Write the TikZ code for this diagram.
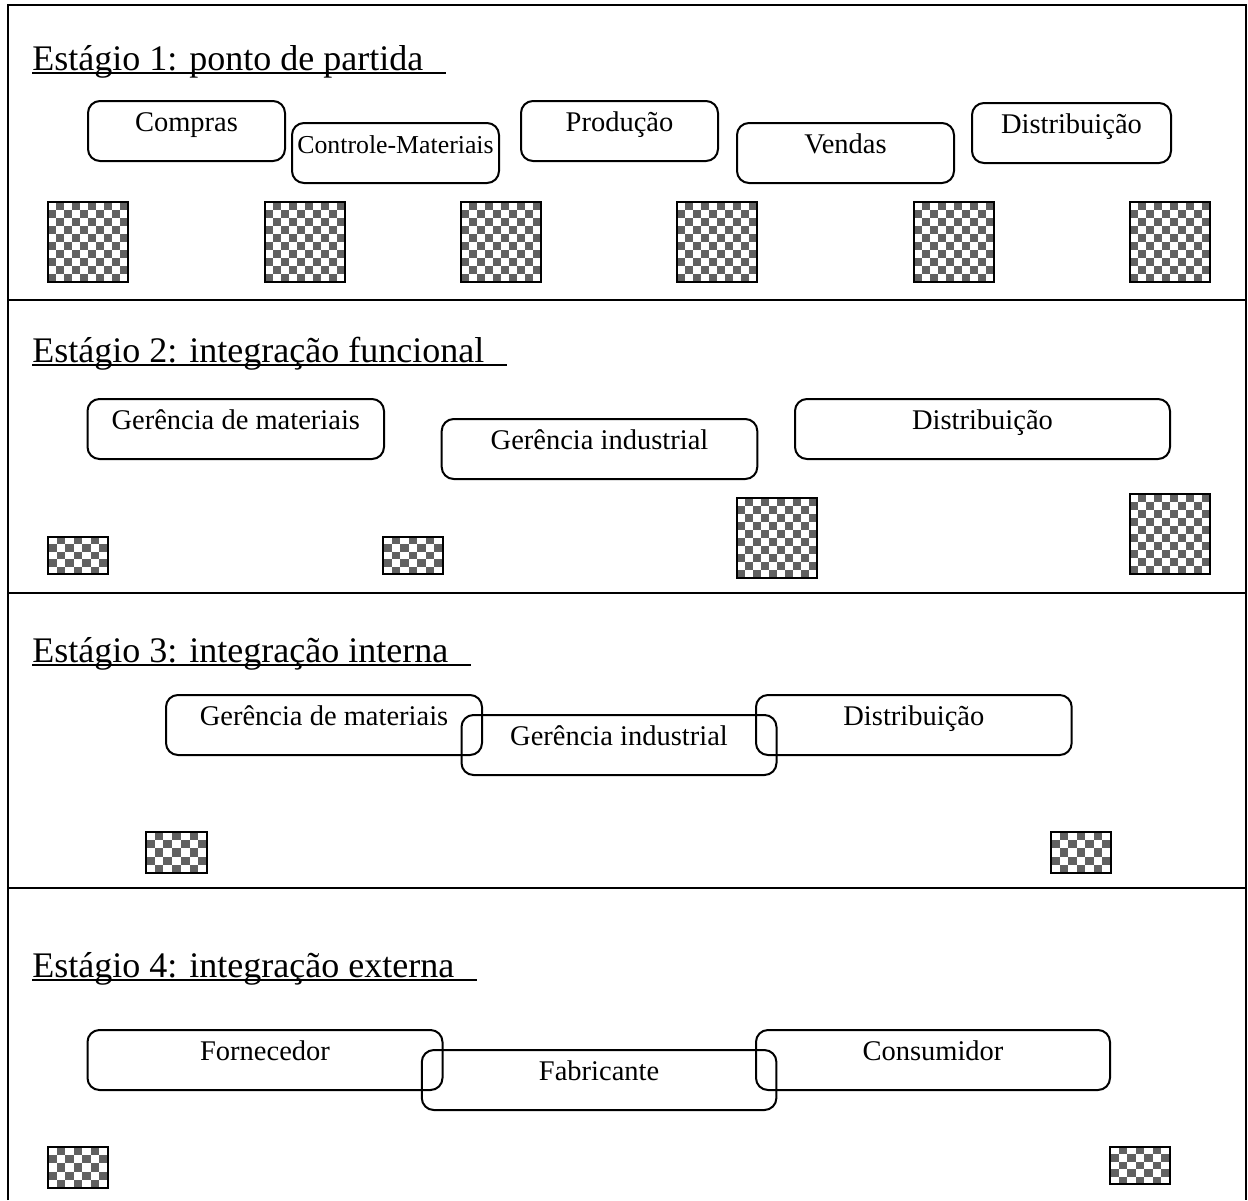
\documentclass[tikz,border=0pt]{standalone}
\usepackage{fontspec}
\setmainfont{Liberation Serif}
\newcommand{\corpo}{\fontsize{14.25pt}{17pt}\selectfont}
\newcommand{\corpomenor}{\fontsize{12.9pt}{15pt}\selectfont}
\newcommand{\titulo}{\fontsize{18pt}{22pt}\selectfont}
\begin{document}
\begin{tikzpicture}[x=0.5pt, y=-0.5pt,
    caixa/.style={draw, line width=1pt, rounded corners=6pt, inner sep=0pt,
      minimum height=30pt, text height=0.35em, text depth=0.35em, font=\corpo},
    estagio/.style={anchor=base west, inner sep=0pt, font=\titulo},
    sublinhado/.style={line width=1pt},
    moldura/.style={line width=1pt},
    xadrez/.style n args={4}{draw, line width=1pt, inner sep=0pt,
      minimum width=#3*0.5pt, minimum height=#4*0.5pt,
      path picture={
        \foreach \i in {1,...,#1}
        {\foreach \j in {1,...,#2}
          {\pgfmathtruncatemacro\paridade{mod(\i+\j,2)}
           \ifnum\paridade=1
             \fill[black!62] ([xshift={(\i-1)*#3/#1*0.5pt}, yshift={-(\j-1)*#4/#2*0.5pt}]path picture bounding box.north west)
               rectangle ++(#3/#1, #4/#2);
           \fi}}
      }}]
    \useasboundingbox (0,0) rectangle (1248,1200);

    % frame and separators
    \draw[moldura] (8,1200) -- (8,5) -- (1246,5) -- (1246,1200);
    \foreach \y in {300,592.5,888} \draw[moldura] (8,\y) -- (1246,\y);

    % stage titles
    \node[estagio] (e1) at (32,70) {Estágio 1: ponto de partida};
    \node[estagio] (e2) at (32,362) {Estágio 2: integração funcional};
    \node[estagio] (e3) at (32,662) {Estágio 3: integração interna};
    \node[estagio] (e4) at (32,977) {Estágio 4: integração externa};
    \foreach \e in {e1,e2,e3,e4}
      \draw[sublinhado] ([yshift=-1.5pt]\e.base west) -- ([xshift=11pt, yshift=-1.5pt]\e.base east);

    % stage 1
    \node[caixa, minimum width=98.5pt] (compras) at (186.5,131) {Compras};
    \node[caixa, minimum width=103.5pt, font=\corpomenor] (controle) at (395.5,153) {Controle-Materiais};
    \node[caixa, minimum width=98.5pt] (producao) at (619.5,131) {Produção};
    \node[caixa, minimum width=108.5pt] (vendas) at (845.5,153) {Vendas};
    \node[caixa, minimum width=99.5pt] (distrib1) at (1071.5,133) {Distribuição};
    \node[xadrez={10}{10}{80}{80}] (q11) at (88,242) {};
    \node[xadrez={10}{10}{80}{80}] (q12) at (304.5,242) {};
    \node[xadrez={10}{10}{80}{80}] (q13) at (501,242) {};
    \node[xadrez={10}{10}{80}{80}] (q14) at (717,242) {};
    \node[xadrez={10}{10}{80}{80}] (q15) at (954,242) {};
    \node[xadrez={10}{10}{80}{80}] (q16) at (1169.5,242) {};

    % stage 2
    \node[caixa, minimum width=148.25pt] (gmat2) at (235.75,429) {Gerência de materiais};
    \node[caixa, minimum width=157.8pt] (gind2) at (599.5,449) {Gerência industrial};
    \node[caixa, minimum width=187.5pt] (distrib2) at (982.5,429) {Distribuição};
    \node[xadrez={7}{5}{60}{37}] (q21) at (78,555.5) {};
    \node[xadrez={7}{5}{60}{37}] (q22) at (413,555.5) {};
    \node[xadrez={10}{10}{80}{80}] (q23) at (777,538) {};
    \node[xadrez={10}{10}{80}{80}] (q24) at (1169.5,534) {};

    % stage 3
    \node[caixa, minimum width=158pt] (gmat3) at (324,725) {Gerência de materiais};
    \node[caixa, minimum width=157.5pt] (gind3) at (619,745) {Gerência industrial};
    \node[caixa, minimum width=157.85pt] (distrib3) at (913.85,725) {Distribuição};
    \node[xadrez={7}{5}{61}{41}] (q31) at (176.5,852.5) {};
    \node[xadrez={7}{5}{60}{41}] (q32) at (1081,852.5) {};

    % stage 4
    \node[caixa, minimum width=177.5pt] (fornecedor) at (265,1060) {Fornecedor};
    \node[caixa, minimum width=177.3pt] (fabricante) at (599.1,1080) {Fabricante};
    \node[caixa, minimum width=177pt] (consumidor) at (933,1060) {Consumidor};
    \node[xadrez={7}{5}{60}{41}] (q41) at (78,1167.5) {};
    \node[xadrez={7}{5}{60}{37}] (q42) at (1140,1165.5) {};
\end{tikzpicture}
\end{document}
